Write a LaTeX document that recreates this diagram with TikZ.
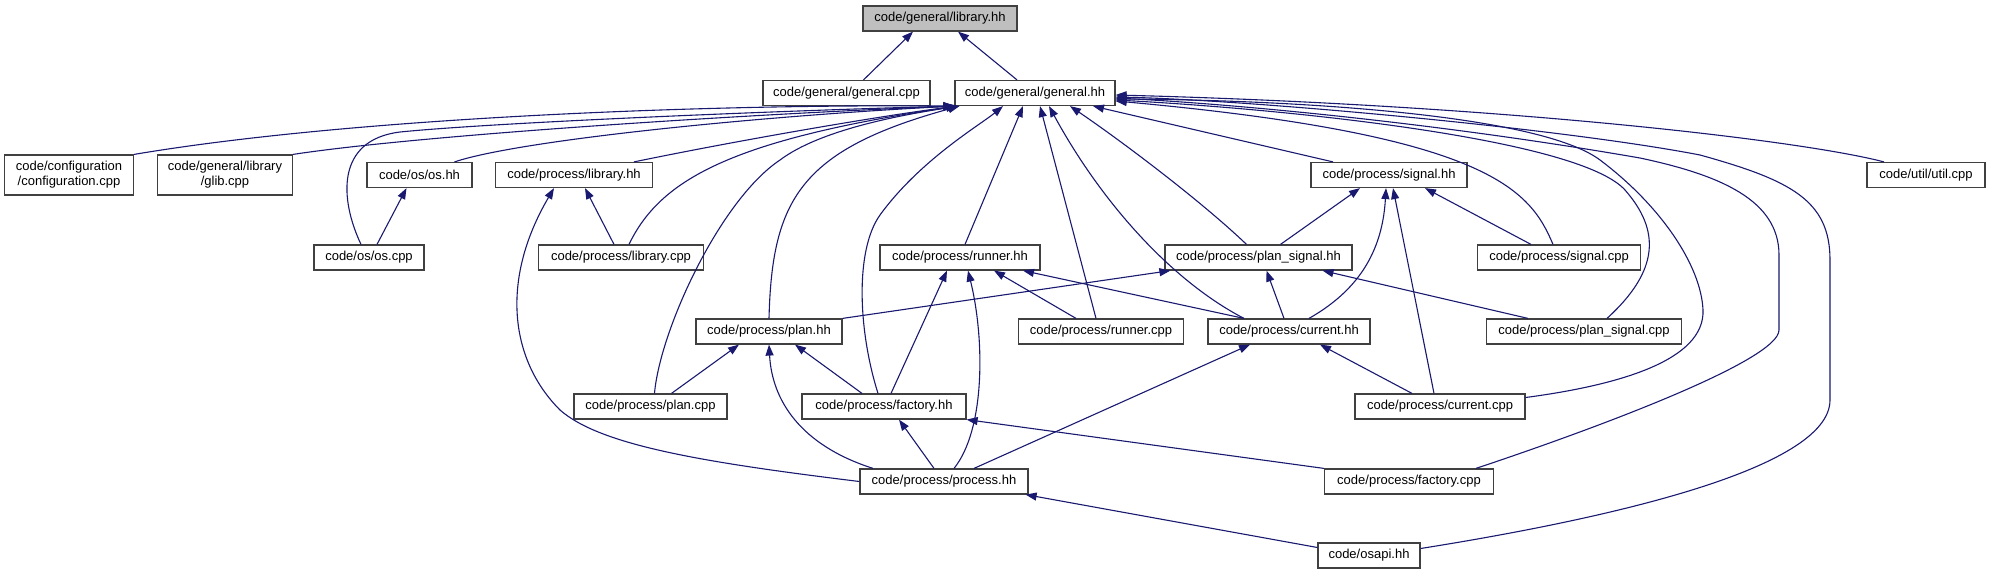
\documentclass[tikz,border=0pt]{standalone}
\usepackage{fontspec}
\setmainfont{Liberation Sans}
\usetikzlibrary{arrows.meta}
\definecolor{depblue}{RGB}{25,25,112}
\definecolor{boxgray}{RGB}{64,64,64}
\begin{document}
\begin{tikzpicture}[x=1pt,y=1pt,
	file/.style={draw=boxgray,line width=1.2pt,fill=white,inner sep=0pt,minimum width=#1,minimum height=25pt,font=\fontsize{13}{15}\selectfont},
	dep/.style={depblue,line width=1.1pt,-{Triangle[length=11pt,width=8pt]}}]
	
	\useasboundingbox (0,0) rectangle (1989,-575);
	
	\node[file=154pt,fill=black!25] (lib) at (940,-18.5) {code/general/library.hh};
	\node[file=167pt] (gcpp) at (846.5,-93) {code/general/general.cpp};
	\node[file=160pt] (ghh) at (1035,-93) {code/general/general.hh};
	\node[file=129pt,minimum height=40pt,align=center] (conf) at (69,-175) {code/configuration\\/configuration.cpp};
	\node[file=135pt,minimum height=40pt,align=center] (glib) at (225,-175) {code/general/library\\/glib.cpp};
	\node[file=105pt] (oshh) at (419.5,-175) {code/os/os.hh};
	\node[file=157pt] (plib) at (574,-175) {code/process/library.hh};
	\node[file=156pt] (sighh) at (1389,-175) {code/process/signal.hh};
	\node[file=118pt] (util) at (1926,-175) {code/util/util.cpp};
	\node[file=110pt] (oscpp) at (369,-257.5) {code/os/os.cpp};
	\node[file=165pt] (plibcpp) at (621,-257.5) {code/process/library.cpp};
	\node[file=160pt] (runhh) at (960,-257.5) {code/process/runner.hh};
	\node[file=187pt] (pshh) at (1258.5,-257.5) {code/process/plan\_signal.hh};
	\node[file=163pt] (sigcpp) at (1559,-257.5) {code/process/signal.cpp};
	\node[file=146pt] (planhh) at (769,-331.5) {code/process/plan.hh};
	\node[file=165pt] (runcpp) at (1101,-331.5) {code/process/runner.cpp};
	\node[file=162pt] (curhh) at (1289,-331.5) {code/process/current.hh};
	\node[file=195pt] (pscpp) at (1584,-331.5) {code/process/plan\_signal.cpp};
	\node[file=153pt] (plancpp) at (650.5,-406.5) {code/process/plan.cpp};
	\node[file=164pt] (facthh) at (884,-406.5) {code/process/factory.hh};
	\node[file=170pt] (curcpp) at (1440,-406.5) {code/process/current.cpp};
	\node[file=168pt] (prochh) at (944,-481.5) {code/process/process.hh};
	\node[file=169pt] (factcpp) at (1409,-481.5) {code/process/factory.cpp};
	\node[file=102pt] (osapi) at (1369,-555.5) {code/osapi.hh};
	
	\draw[dep] ([xshift=17pt]gcpp.north) -- ([xshift=-27pt]lib.south);
	\draw[dep] ([xshift=-18pt]ghh.north) -- ([xshift=18pt]lib.south);
	
	\draw[dep] (conf.north east) .. controls (350,-118) and (700,-104) .. (ghh.south west);
	\draw[dep] (glib.north east) .. controls (420,-135) and (750,-114) .. (ghh.south west);
	\draw[dep] ([xshift=35pt]oshh.north) .. controls (520,-140) and (760,-116) .. (ghh.south west);
	\draw[dep] ([xshift=-8pt]oscpp.north) .. controls (340,-200) and (335,-140) .. (400,-132) .. controls (500,-122) and (800,-110) .. (ghh.south west);
	\draw[dep] ([xshift=60pt]plib.north) .. controls (740,-140) and (880,-116) .. ([xshift=3pt]ghh.south west);
	\draw[dep] ([xshift=8pt]plibcpp.north) .. controls (660,-180) and (730,-140) .. ([xshift=3pt]ghh.south west);
	\draw[dep] (planhh.north) .. controls (772,-200) and (800,-150) .. ([xshift=5pt]ghh.south west);
	\draw[dep] ([xshift=4pt]plancpp.north) .. controls (660,-330) and (720,-200) .. (780,-160) .. controls (820,-130) and (900,-115) .. ([xshift=5pt]ghh.south west);
	\draw[dep] ([xshift=-6pt]facthh.north) .. controls (858,-330) and (855,-250) .. (880,-215) .. controls (920,-160) and (980,-125) .. ([xshift=-32pt]ghh.south);
	\draw[dep] ([xshift=5pt]runhh.north) -- ([xshift=-12pt]ghh.south);
	\draw[dep] ([xshift=-5pt]runcpp.north) -- ([xshift=5pt]ghh.south);
	\draw[dep] ([xshift=-45pt]curhh.north) .. controls (1170,-280) and (1100,-200) .. ([xshift=14pt]ghh.south);
	\draw[dep] ([xshift=-12pt]pshh.north) .. controls (1200,-200) and (1120,-140) .. ([xshift=35pt]ghh.south);
	\draw[dep] ([xshift=-56pt]sighh.north) -- ([xshift=58pt]ghh.south);
	\draw[dep] ([xshift=-6pt]sigcpp.north) .. controls (1530,-190) and (1490,-135) .. ([yshift=-8pt]ghh.east);
	\draw[dep] ([xshift=23pt]pscpp.north) .. controls (1660,-270) and (1660,-230) .. (1625,-190) .. controls (1580,-140) and (1300,-110) .. ([yshift=-7pt]ghh.east);
	\draw[dep] ([yshift=9pt]curcpp.east) .. controls (1620,-385) and (1705,-360) .. (1703,-310) .. controls (1701,-265) and (1660,-205) .. (1600,-160) .. controls (1540,-115) and (1300,-100) .. ([yshift=-6pt]ghh.east);
	\draw[dep] ([xshift=67pt]factcpp.north) .. controls (1600,-427) and (1779,-360) .. (1779,-330) -- (1779,-255) .. controls (1779,-200) and (1720,-175) .. (1640,-158) .. controls (1450,-125) and (1250,-105) .. ([yshift=-5pt]ghh.east);
	\draw[dep] ([yshift=7pt]osapi.east) .. controls (1600,-520) and (1830,-470) .. (1830,-400) -- (1830,-260) .. controls (1830,-200) and (1790,-180) .. (1700,-155) .. controls (1560,-128) and (1250,-100) .. ([yshift=-4pt]ghh.east);
	\draw[dep] ([xshift=-42pt]util.north) .. controls (1800,-140) and (1500,-105) .. ([yshift=-2pt]ghh.east);
	
	\draw[dep] ([xshift=8pt]oscpp.north) -- ([xshift=-13pt]oshh.south);
	\draw[dep] ([xshift=-7pt]plibcpp.north) -- ([xshift=11pt]plib.south);
	\draw[dep] (prochh.west) .. controls (700,-462) and (600,-445) .. (560,-410) .. controls (510,-360) and (500,-280) .. ([xshift=-20pt]plib.south);
	\draw[dep] (planhh.north east) -- ([xshift=6pt]pshh.south west);
	\draw[dep] ([xshift=-25pt]runcpp.north) -- ([xshift=34pt]runhh.south);
	\draw[dep] ([xshift=-45pt]curhh.north) -- ([xshift=63pt]runhh.south);
	\draw[dep] ([xshift=7pt]facthh.north) -- ([xshift=-13pt]runhh.south);
	\draw[dep] ([xshift=10pt]prochh.north) .. controls (985,-430) and (985,-340) .. ([xshift=8pt]runhh.south);
	\draw[dep] ([xshift=22pt]pshh.north) -- ([xshift=-29pt]sighh.south);
	\draw[dep] ([xshift=-28pt]sigcpp.north) -- ([xshift=36pt]sighh.south);
	\draw[dep] ([xshift=20pt]curhh.north) .. controls (1350,-295) and (1382,-260) .. ([xshift=-3pt]sighh.south);
	\draw[dep] ([xshift=-6pt]curcpp.north) -- ([xshift=4pt]sighh.south);
	\draw[dep] ([xshift=-5pt]curhh.north) -- ([xshift=8pt]pshh.south);
	\draw[dep] ([xshift=-56pt]pscpp.north) -- ([xshift=64pt]pshh.south);
	\draw[dep] ([xshift=21pt]plancpp.north) -- ([xshift=-30pt]planhh.south);
	\draw[dep] ([xshift=-22pt]facthh.north) -- ([xshift=26pt]planhh.south);
	\draw[dep] ([xshift=-71pt]prochh.north) .. controls (800,-445) and (772,-400) .. (planhh.south);
	\draw[dep] (factcpp.north west) -- (facthh.south east);
	\draw[dep] ([xshift=-10pt]prochh.north) -- ([xshift=15pt]facthh.south);
	\draw[dep] ([xshift=-28pt]curcpp.north) -- ([xshift=31pt]curhh.south);
	\draw[dep] ([xshift=30pt]prochh.north) -- ([xshift=-39pt]curhh.south);
	\draw[dep] ([yshift=8pt]osapi.west) -- ([xshift=-3pt]prochh.south east);
	
\end{tikzpicture}
\end{document}
